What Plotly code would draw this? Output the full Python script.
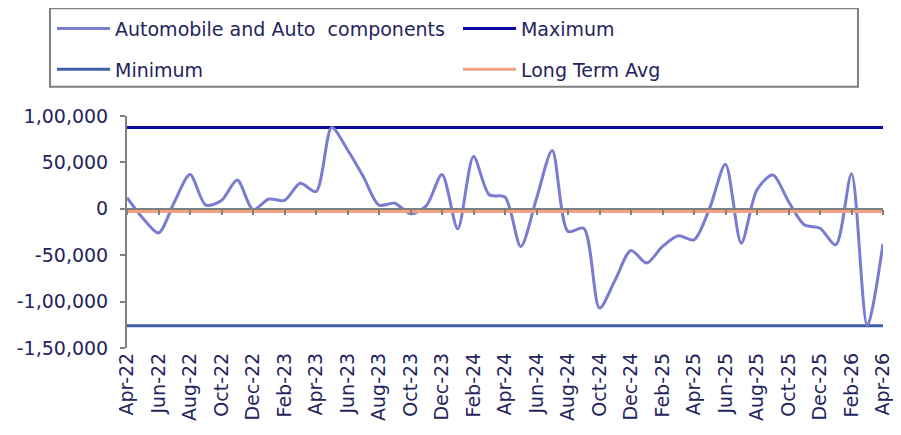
import plotly.graph_objects as go

months = ["Apr-22","May-22","Jun-22","Jul-22","Aug-22","Sep-22","Oct-22","Nov-22","Dec-22",
          "Jan-23","Feb-23","Mar-23","Apr-23","May-23","Jun-23","Jul-23","Aug-23","Sep-23",
          "Oct-23","Nov-23","Dec-23","Jan-24","Feb-24","Mar-24","Apr-24","May-24","Jun-24",
          "Jul-24","Aug-24","Sep-24","Oct-24","Nov-24","Dec-24","Jan-25","Feb-25","Mar-25",
          "Apr-25","May-25","Jun-25","Jul-25","Aug-25","Sep-25","Oct-25","Nov-25","Dec-25",
          "Jan-26","Feb-26","Mar-26","Apr-26"]

auto_values = [12000, -10000, -26000, 7000, 37000, 4000, 9000, 31000, -1000,
               10500, 9000, 27500, 18600, 87600, 63600, 34800, 4000, 6000,
               -5400, 3200, 37000, -21600, 56400, 15100, 12600, -40600, 11000,
               62900, -24400, -20900, -107000, -76500, -44900, -58500, -40600, -29100,
               -33400, 1000, 48100, -37000, 20500, 36300, 7900, -17200, -20900,
               -38800, 37700, -126000, -37700]

maximum_value = 87600
minimum_value = -126000
long_term_avg = -3000

y_tickvals = [-150000, -100000, -50000, 0, 50000, 100000]
y_ticktext = ["-1,50,000", "-1,00,000", "-50,000", "0", "50,000", "1,00,000"]
x_tickvals = months[::2]

TEXT = "#24245c"
GRAY = "#808080"
FONT = "DejaVu Sans"
FS = 19

n = len(months)
fig = go.Figure()

fig.add_trace(go.Scatter(x=months, y=[maximum_value]*n, mode="lines", name="Maximum",
                         line=dict(color="#0a0aa0", width=3), legend="legend2",
                         legendgroup="g2", legendrank=1))
fig.add_trace(go.Scatter(x=months, y=[minimum_value]*n, mode="lines", name="Minimum",
                         line=dict(color="#3f5fa8", width=3), legend="legend",
                         legendgroup="g3", legendrank=2))
fig.add_trace(go.Scatter(x=months, y=[long_term_avg]*n, mode="lines", name="Long Term Avg",
                         line=dict(color="#f2a283", width=3), legend="legend2",
                         legendgroup="g4", legendrank=2, xaxis="x2"))
fig.add_trace(go.Scatter(x=months, y=auto_values, mode="lines",
                         name="Automobile and Auto\u00a0 components",
                         line=dict(color="#7a7ccf", width=3, shape="spline", smoothing=0.8),
                         legend="legend", legendgroup="g1", legendrank=1))

legend_common = dict(orientation="v", font=dict(family=FONT, size=FS, color=TEXT),
                     bgcolor="rgba(0,0,0,0)", borderwidth=0, itemwidth=53,
                     tracegroupgap=13, xanchor="left", yanchor="top",
                     traceorder="grouped")

fig.update_layout(
    width=893, height=427,
    margin=dict(l=119, r=18, t=108, b=87, autoexpand=False),
    paper_bgcolor="white", plot_bgcolor="white",
    font=dict(family=FONT, size=FS, color=TEXT),
    showlegend=True,
    legend=dict(x=-0.0992, y=1.458, **legend_common),
    legend2=dict(x=0.4378, y=1.458, **legend_common),
    xaxis=dict(type="category", categoryorder="array", categoryarray=months,
               range=[0, n - 1], tickvals=x_tickvals, ticktext=x_tickvals,
               tickangle=-90, showline=False, ticks="", showgrid=False,
               zeroline=False, tickfont=dict(family=FONT, size=FS, color=TEXT),
               automargin=False),
    xaxis2=dict(type="category", categoryorder="array", categoryarray=months,
                range=[0, n - 1], overlaying="x", anchor="free", position=0.6,
                side="bottom", tickvals=x_tickvals, showticklabels=False,
                showline=True, linecolor=GRAY, linewidth=2, ticks="outside",
                ticklen=5, tickwidth=2, tickcolor=GRAY, showgrid=False, zeroline=False),
    yaxis=dict(range=[-150000, 100000], tickvals=y_tickvals, ticktext=y_ticktext,
               showline=True, linecolor=GRAY, linewidth=2, ticks="outside",
               ticklen=5, tickwidth=2, tickcolor=GRAY, showgrid=False, zeroline=False,
               ticklabelstandoff=8,
               tickfont=dict(family=FONT, size=FS, color=TEXT), automargin=False),
    shapes=[dict(type="rect", xref="paper", yref="paper",
                 x0=-0.1019, x1=0.9669, y0=1.126, y1=1.464,
                 line=dict(color=GRAY, width=2), fillcolor="rgba(0,0,0,0)", layer="above")],
)

fig.write_html("out.html")
